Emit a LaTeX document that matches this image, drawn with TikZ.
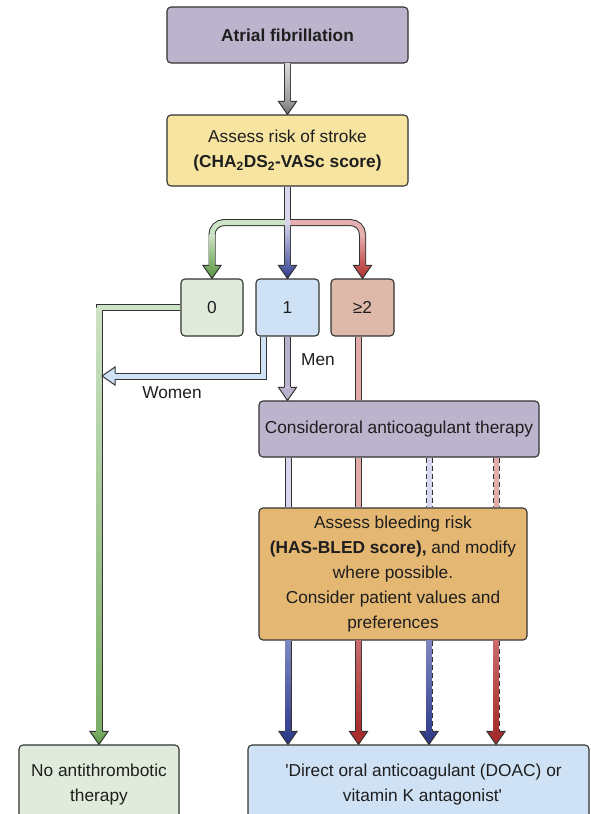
\documentclass[tikz,border=0pt]{standalone}
\usepackage{fontspec}
\setmainfont{Liberation Sans}
\usetikzlibrary{calc}
\definecolor{edgec}{HTML}{333333}
\definecolor{txtc}{HTML}{1E1E1E}
\definecolor{lavbox}{HTML}{BCB3CD}
\definecolor{yelbox}{HTML}{F6E4A0}
\definecolor{grnbox}{HTML}{E0EBDC}
\definecolor{blubox}{HTML}{CFE2F5}
\definecolor{pnkbox}{HTML}{DEB9A9}
\definecolor{orgbox}{HTML}{E4B772}
\definecolor{grayA}{HTML}{DADADA}
\definecolor{grayB}{HTML}{9A9A9A}
\definecolor{grayC}{HTML}{6C6C6C}
\definecolor{lavL}{HTML}{D8D7EC}
\definecolor{blueM}{HTML}{5A63A8}
\definecolor{blueD}{HTML}{2B3585}
\definecolor{gLight}{HTML}{CDE3C5}
\definecolor{gM}{HTML}{7BAE65}
\definecolor{gD}{HTML}{5A9442}
\definecolor{rLight}{HTML}{E6AFAF}
\definecolor{rM}{HTML}{C45252}
\definecolor{rD}{HTML}{A82E2E}
\definecolor{menc}{HTML}{BAB1CC}
\definecolor{wblue}{HTML}{CFE2F5}
\definecolor{pinkL}{HTML}{E0ABA8}
\definecolor{lav2}{HTML}{D6D7EE}
\definecolor{bTop}{HTML}{8088C0}
\definecolor{bBot}{HTML}{34408F}
\definecolor{rTop}{HTML}{C96C6C}
\definecolor{rBot}{HTML}{A82C2C}
\tikzset{
  box/.style={draw=edgec, line width=1.1pt, rounded corners=4pt, align=center,
    inner sep=0pt, text=txtc, font=\fontsize{17.3}{25}\selectfont},
  lbl/.style={inner sep=0pt, text=txtc, font=\fontsize{17.3}{25}\selectfont},
  outl/.style={line width=7pt, draw=edgec},
  infl/.style={line width=5pt},
  dsh/.style={dash pattern=on 5pt off 3pt}
}
\newcommand\vshade[4]{%
  \shade[top color=#3, bottom color=#4] ($(#1)+(-2.5,0)$) rectangle ($(#2)+(2.5,0)$);}
\newcommand\headdown[3]{%
  \shade[top color=#2, bottom color=#3] ($(#1)+(-9,-13)$) -- (#1) -- ($(#1)+(9,-13)$) -- cycle;
  \draw[edgec, line width=1pt, line join=miter] ($(#1)+(-3,-13)$) -- ($(#1)+(-9,-13)$) -- (#1) -- ($(#1)+(9,-13)$) -- ($(#1)+(3,-13)$);}
\newcommand\headleft[2]{%
  \fill[#2] ($(#1)+(13,-9)$) -- (#1) -- ($(#1)+(13,9)$) -- cycle;
  \draw[edgec, line width=1pt, line join=miter] ($(#1)+(13,-3)$) -- ($(#1)+(13,-9)$) -- (#1) -- ($(#1)+(13,9)$) -- ($(#1)+(13,3)$);}
\begin{document}
\begin{tikzpicture}[x=1pt, y=-1pt]
\clip (0,0) rectangle (590,814);
\fill[white] (0,0) rectangle (590,814);

% boxes
\node[box, fill=lavbox, minimum width=241pt, minimum height=56pt] (af) at (287.5,35) {\textbf{Atrial fibrillation}};
\node[box, fill=yelbox, minimum width=241pt, minimum height=71pt] (risk) at (287.5,150.5)
  {Assess risk of stroke\\\textbf{(CHA\textsubscript{2}DS\textsubscript{2}-VASc score)}};
\node[box, fill=grnbox, minimum width=62pt, minimum height=57pt] (s0) at (212,307.5) {0};
\node[box, fill=blubox, minimum width=63pt, minimum height=57pt] (s1) at (287.5,307.5) {1};
\node[box, fill=pnkbox, minimum width=63pt, minimum height=57pt] (s2) at (362.5,307.5) {≥2};
\node[box, fill=lavbox, minimum width=280pt, minimum height=56pt] (cons) at (399,429) {Consideroral anticoagulant therapy};
\node[box, fill=orgbox, minimum width=268pt, minimum height=132pt] (bleed) at (393,574)
  {Assess bleeding risk\\\textbf{(HAS-BLED score),} and modify\\where possible.\\Consider patient values and\\preferences};
\node[box, fill=grnbox, minimum width=160pt, minimum height=80pt] (noanti) at (99,785)
  {No antithrombotic\\therapy};
\node[box, fill=blubox, minimum width=341pt, minimum height=80pt] (doac) at (418.5,785)
  {\hspace*{10pt}\textquotesingle Direct oral anticoagulant (DOAC) or\\\hspace*{8pt}vitamin K antagonist\textquotesingle};

% labels
\node[lbl] (men) at (318,360) {Men};
\node[lbl] (women) at (172,393) {Women};

% coordinates
\coordinate (rh) at ($(risk.north)+(0,-13)$);
\coordinate (junc) at ($(risk.south)+(0,36)$);
\coordinate (s0h) at ($(s0.north)+(0,-13)$);
\coordinate (s1h) at ($(s1.north)+(0,-13)$);
\coordinate (s2h) at ($(s2.north)+(0,-13)$);
\coordinate (s0c) at ($(s0h |- junc)+(0,12)$);
\coordinate (s2c) at ($(s2h |- junc)+(0,12)$);
\coordinate (gcorner) at (noanti.north |- s0.west);
\coordinate (nah) at ($(noanti.north)+(0,-13)$);
\coordinate (wst) at (263,0 |- s1.south);
\coordinate (wtip) at (102,376);
\coordinate (wb) at ($(wtip)+(13,0)$);
\coordinate (mtip) at (s1.south |- cons.north);
\coordinate (mh) at ($(mtip)+(0,-13)$);
\coordinate (q1) at (358.5,0 |- s2.south);
\coordinate (q2) at (358.5,0 |- cons.north);
\foreach \k/\xx in {1/288,2/358.5,3/429,4/496}{
  \coordinate (c\k) at (\xx,0 |- cons.south);
  \coordinate (b\k) at (\xx,0 |- bleed.north);
  \coordinate (d\k) at (\xx,0 |- bleed.south);
  \coordinate (e\k) at (\xx,0 |- doac.north);
  \coordinate (eh\k) at ($(e\k)+(0,-13)$);
}

% Atrial fibrillation -> risk
\draw[outl] (af.south) -- (rh);
\vshade{af.south}{rh}{grayA}{grayB}
\headdown{risk.north}{grayB}{grayC}

% branches
\draw[outl] (risk.south) -- (s1h);
\draw[outl, rounded corners=12pt] (junc) -| (s0h);
\draw[outl, rounded corners=12pt] (junc) -| (s2h);
\draw[infl, draw=gLight, rounded corners=12pt] (junc) -| (s0h);
\draw[infl, draw=rLight, rounded corners=12pt] (junc) -| (s2h);
\draw[infl, draw=lavL] (risk.south) -- (s1h);
\vshade{junc}{s1h}{lavL}{blueM}
\vshade{s0c}{s0h}{gLight}{gM}
\vshade{s2c}{s2h}{rLight}{rM}
\headdown{s0.north}{gM}{gD}
\headdown{s1.north}{blueM}{blueD}
\headdown{s2.north}{rM}{rD}

% 0 -> no antithrombotic
\draw[outl] (s0.west) -| (nah);
\draw[infl, draw=gLight] (s0.west) -| (nah);
\vshade{gcorner}{nah}{gLight}{gM}
\headdown{noanti.north}{gM}{gD}

% women
\draw[outl] (wst) |- (wb);
\draw[infl, draw=wblue] (wst) |- (wb);
\headleft{wtip}{wblue}

% men
\draw[outl] (s1.south) -- (mh);
\draw[infl, draw=menc] (s1.south) -- (mh);
\headdown{mtip}{menc}{menc}

% >=2 -> consider
\draw[outl] (q1) -- (q2);
\draw[infl, draw=pinkL] (q1) -- (q2);

% consider -> bleeding
\draw[outl] (c1) -- (b1); \draw[infl, draw=lav2] (c1) -- (b1);
\draw[outl] (c2) -- (b2); \draw[infl, draw=pinkL] (c2) -- (b2);
\draw[outl, dsh] (c3) -- (b3); \draw[infl, draw=lav2] (c3) -- (b3);
\draw[outl, dsh] (c4) -- (b4); \draw[infl, draw=pinkL] (c4) -- (b4);

% bleeding -> DOAC
\draw[outl] (d1) -- (eh1); \vshade{d1}{eh1}{bTop}{bBot} \headdown{e1}{bBot}{blueD}
\draw[outl] (d2) -- (eh2); \vshade{d2}{eh2}{rTop}{rBot} \headdown{e2}{rBot}{rD}
\draw[outl, dsh] (d3) -- (eh3); \vshade{d3}{eh3}{bTop}{bBot} \headdown{e3}{bBot}{blueD}
\draw[outl, dsh] (d4) -- (eh4); \vshade{d4}{eh4}{rTop}{rBot} \headdown{e4}{rBot}{rD}
\end{tikzpicture}
\end{document}
